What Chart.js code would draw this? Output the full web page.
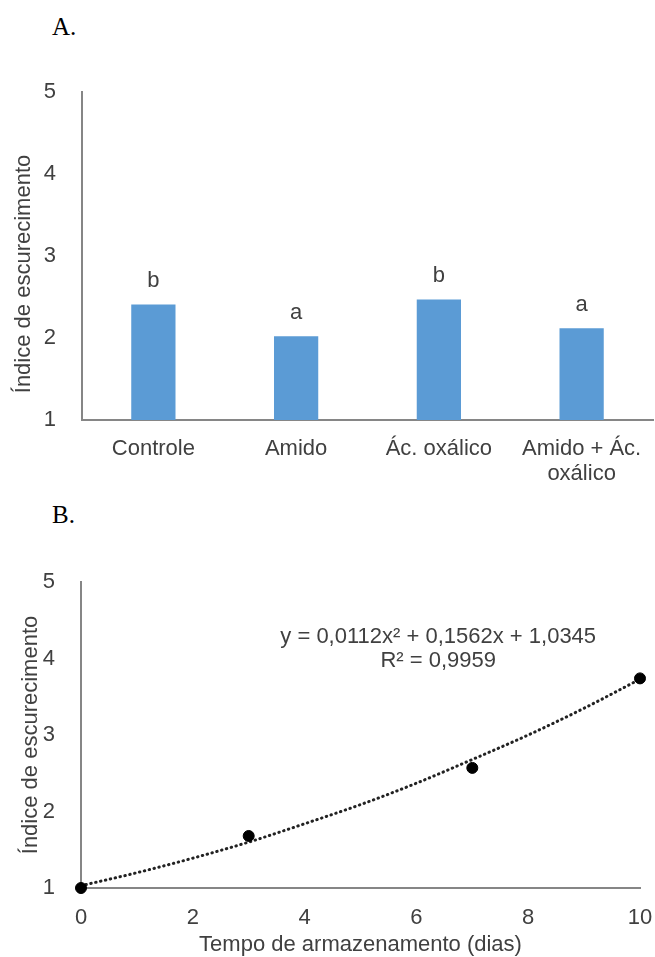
<!DOCTYPE html>
<html>
<head>
<meta charset="utf-8">
<script src="https://cdn.jsdelivr.net/npm/chart.js@4.4.1/dist/chart.umd.min.js"></script>
<style>
  html, body { margin: 0; padding: 0; background: #fff; }
  body { width: 655px; height: 957px; position: relative; overflow: hidden; }
  .panel { position: absolute; left: 52px; font-family: "Liberation Serif", "Times New Roman", serif; font-size: 25px; line-height: 25px; color: #000; }
  .box { position: absolute; left: 0; width: 655px; }
</style>
</head>
<body>
<div class="panel" style="top:14px">A.</div>
<div class="box" style="top:60px;height:440px"><canvas id="chartA"></canvas></div>
<div class="panel" style="top:502px">B.</div>
<div class="box" style="top:560px;height:397px"><canvas id="chartB"></canvas></div>
<script>
// A: browning index per treatment
const treatments = [['Controle'], ['Amido'], ['Ác. oxálico'], ['Amido + Ác.', 'oxálico']];
const browningIndex = [2.41, 2.02, 2.47, 2.12];
const significance = ['b', 'a', 'b', 'a'];

// B: browning index over storage time
const storageDays = [0, 3, 7, 10];
const browningByDay = [1.0, 1.68, 2.57, 3.74];
// dotted polynomial trendline at each day
const trendDays = [0, 1, 2, 3, 4, 5, 6, 7, 8, 9, 10];
const trendValues = [1.03, 1.20, 1.39, 1.60, 1.84, 2.09, 2.37, 2.68, 3.00, 3.35, 3.73];
const trendText = ['y = 0,0112x² + 0,1562x + 1,0345', 'R² = 0,9959'];

const yTitle = 'Índice de escurecimento';
const xTitleB = 'Tempo de armazenamento (dias)';

const FONT = '"Liberation Sans", Arial, sans-serif';
const axisColor = '#868686';
const textColor = '#404040';
Chart.defaults.font.family = FONT;
Chart.defaults.font.size = 22;
Chart.defaults.color = textColor;

// rotated y title, drawn at a given x and shifted along the axis
function sideTitle(text, x, shift) {
  return {
    id: 'sideTitle',
    afterDraw(chart) {
      const { ctx, chartArea } = chart;
      ctx.save();
      ctx.translate(x, (chartArea.top + chartArea.bottom) / 2 + shift);
      ctx.rotate(-Math.PI / 2);
      ctx.font = `22px ${FONT}`;
      ctx.fillStyle = textColor;
      ctx.textAlign = 'center';
      ctx.textBaseline = 'middle';
      ctx.fillText(text, 0, 0);
      ctx.restore();
    }
  };
}

const barLetters = {
  id: 'barLetters',
  afterDatasetsDraw(chart) {
    const { ctx } = chart;
    const meta = chart.getDatasetMeta(0);
    ctx.save();
    ctx.font = `22px ${FONT}`;
    ctx.fillStyle = textColor;
    ctx.textAlign = 'center';
    ctx.textBaseline = 'alphabetic';
    meta.data.forEach((bar, i) => ctx.fillText(significance[i], bar.x, bar.y - 17));
    ctx.restore();
  }
};

const equationLabel = {
  id: 'equationLabel',
  afterDraw(chart) {
    const { ctx, chartArea } = chart;
    const cx = chartArea.left + (chartArea.right - chartArea.left) * 0.639;
    ctx.save();
    ctx.font = `22px ${FONT}`;
    ctx.fillStyle = textColor;
    ctx.textAlign = 'center';
    ctx.textBaseline = 'middle';
    trendText.forEach((t, i) => ctx.fillText(t, cx, chartArea.top + 55 + i * 24));
    ctx.restore();
  }
};

const border = { color: axisColor, width: 2 };

// fixed axis boxes; drop the label overhang padding so layout.padding rules
const fixX = h => s => { s.height = h; s.paddingLeft = 0; s.paddingRight = 0; };
const fixY = w => s => { s.width = w; s.paddingTop = 0; s.paddingBottom = 0; };

new Chart(document.getElementById('chartA'), {
  type: 'bar',
  data: {
    labels: treatments,
    datasets: [{
      data: browningIndex,
      backgroundColor: '#5B9BD5',
      barPercentage: 0.31,
      categoryPercentage: 1
    }]
  },
  options: {
    responsive: true,
    maintainAspectRatio: false,
    animation: false,
    layout: { padding: { top: 32, right: 2, left: 0, bottom: 0 } },
    plugins: { legend: { display: false }, tooltip: { enabled: false } },
    scales: {
      x: {
        grid: { display: false },
        border: border,
        ticks: { padding: 8, maxRotation: 0, autoSkip: false, font: { size: 22, lineHeight: 1.15 } },
        afterFit: fixX(80)
      },
      y: {
        min: 1,
        max: 5,
        grid: { display: false },
        border: border,
        ticks: { stepSize: 1, padding: 18 },
        afterFit: fixY(82)
      }
    }
  },
  plugins: [barLetters, sideTitle(yTitle, 24, 18)]
});

new Chart(document.getElementById('chartB'), {
  type: 'scatter',
  data: {
    datasets: [
      {
        type: 'line',
        data: trendDays.map((d, i) => ({ x: d, y: trendValues[i] })),
        borderColor: '#222',
        borderWidth: 3,
        borderDash: [0.5, 4.5],
        borderCapStyle: 'round',
        pointRadius: 0,
        cubicInterpolationMode: 'monotone',
        fill: false,
        clip: false,
        order: 2
      },
      {
        data: storageDays.map((d, i) => ({ x: d, y: browningByDay[i] })),
        backgroundColor: '#000',
        borderColor: '#000',
        pointRadius: 5.5,
        clip: false,
        order: 1
      }
    ]
  },
  options: {
    responsive: true,
    maintainAspectRatio: false,
    animation: false,
    layout: { autoPadding: false, padding: { top: 22, right: 15, left: 0, bottom: 0 } },
    plugins: { legend: { display: false }, tooltip: { enabled: false } },
    scales: {
      x: {
        type: 'linear',
        min: 0,
        max: 10,
        grid: { display: false },
        border: border,
        ticks: { stepSize: 2, padding: 9 },
        title: { display: true, text: xTitleB, padding: 0, font: { size: 22, lineHeight: 1.1 } },
        afterFit: fixX(69)
      },
      y: {
        min: 1,
        max: 5,
        grid: { display: false },
        border: border,
        ticks: { stepSize: 1, padding: 18 },
        afterFit: fixY(81)
      }
    }
  },
  plugins: [equationLabel, sideTitle(yTitle, 31, 0)]
});
</script>
</body>
</html>
